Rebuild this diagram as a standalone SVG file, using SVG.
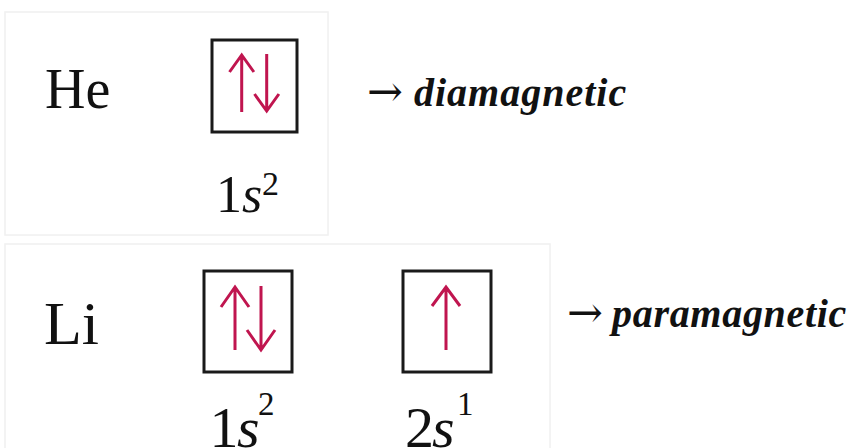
<svg xmlns="http://www.w3.org/2000/svg" width="857" height="448" viewBox="0 0 857 448">
<style>
.panel{fill:#ffffff;stroke:#f0f0f0;stroke-width:1.5}
.box{fill:none;stroke:#1a1a1a;stroke-width:3}
.spin{fill:none;stroke:#c0154f;stroke-width:3;stroke-linecap:butt;stroke-linejoin:miter}
.el{font-family:"Liberation Serif","Times New Roman",serif;fill:#111}
.it{font-style:italic}
.mag{font-family:"Liberation Serif","Times New Roman",serif;font-weight:bold;font-style:italic;font-size:40px;fill:#111}
.arr{font-family:"DejaVu Serif","DejaVu Sans",serif;font-weight:normal;font-style:normal;font-size:43px}
</style>
<rect width="857" height="448" fill="#ffffff"/>
<rect class="panel" x="5" y="12" width="323" height="223"/>
<rect class="panel" x="5" y="244" width="545" height="220"/>

<g id="he">
  <text class="el" x="45" y="108" font-size="56">He</text>
</g>
<g id="he-1s">
  <rect class="box" x="212" y="40" width="85" height="92"/>
  <path class="spin" d="M241.7,112 V56 M229.5,72 L241.7,55 L253.9,72"/>
  <path class="spin" d="M266.7,54 V110 M254.5,94 L266.7,111 L278.9,94"/>
  <text class="el" x="216" y="212" font-size="52">1<tspan class="it" x="242">s</tspan><tspan x="262" y="195" font-size="34">2</tspan></text>
</g>
<g id="he-result">
  <text class="mag" x="367" y="106"><tspan class="arr">→</tspan><tspan x="414" letter-spacing="1">diamagnetic</tspan></text>
</g>

<g id="li">
  <text class="el" x="44" y="344" font-size="62">Li</text>
</g>
<g id="li-1s">
  <rect class="box" x="204" y="271" width="88" height="101"/>
  <path class="spin" d="M235,350 V288 M221,307 L235,287 L249,307"/>
  <path class="spin" d="M261,286 V349 M247,330 L261,350 L275,330"/>
  <text class="el" x="209.6" y="447" font-size="58">1<tspan class="it" x="237">s</tspan><tspan x="258" y="415" font-size="33">2</tspan></text>
</g>
<g id="li-2s">
  <rect class="box" x="403" y="271" width="88" height="101"/>
  <path class="spin" d="M446,350 V288 M432,306 L446,287 L460,306"/>
  <text class="el" x="405" y="447" font-size="58">2<tspan class="it" x="432">s</tspan><tspan x="457" y="415" font-size="33">1</tspan></text>
</g>
<g id="li-result">
  <text class="mag" x="567" y="327"><tspan class="arr">→</tspan><tspan x="612" letter-spacing="0.7">paramagnetic</tspan></text>
</g>
</svg>
